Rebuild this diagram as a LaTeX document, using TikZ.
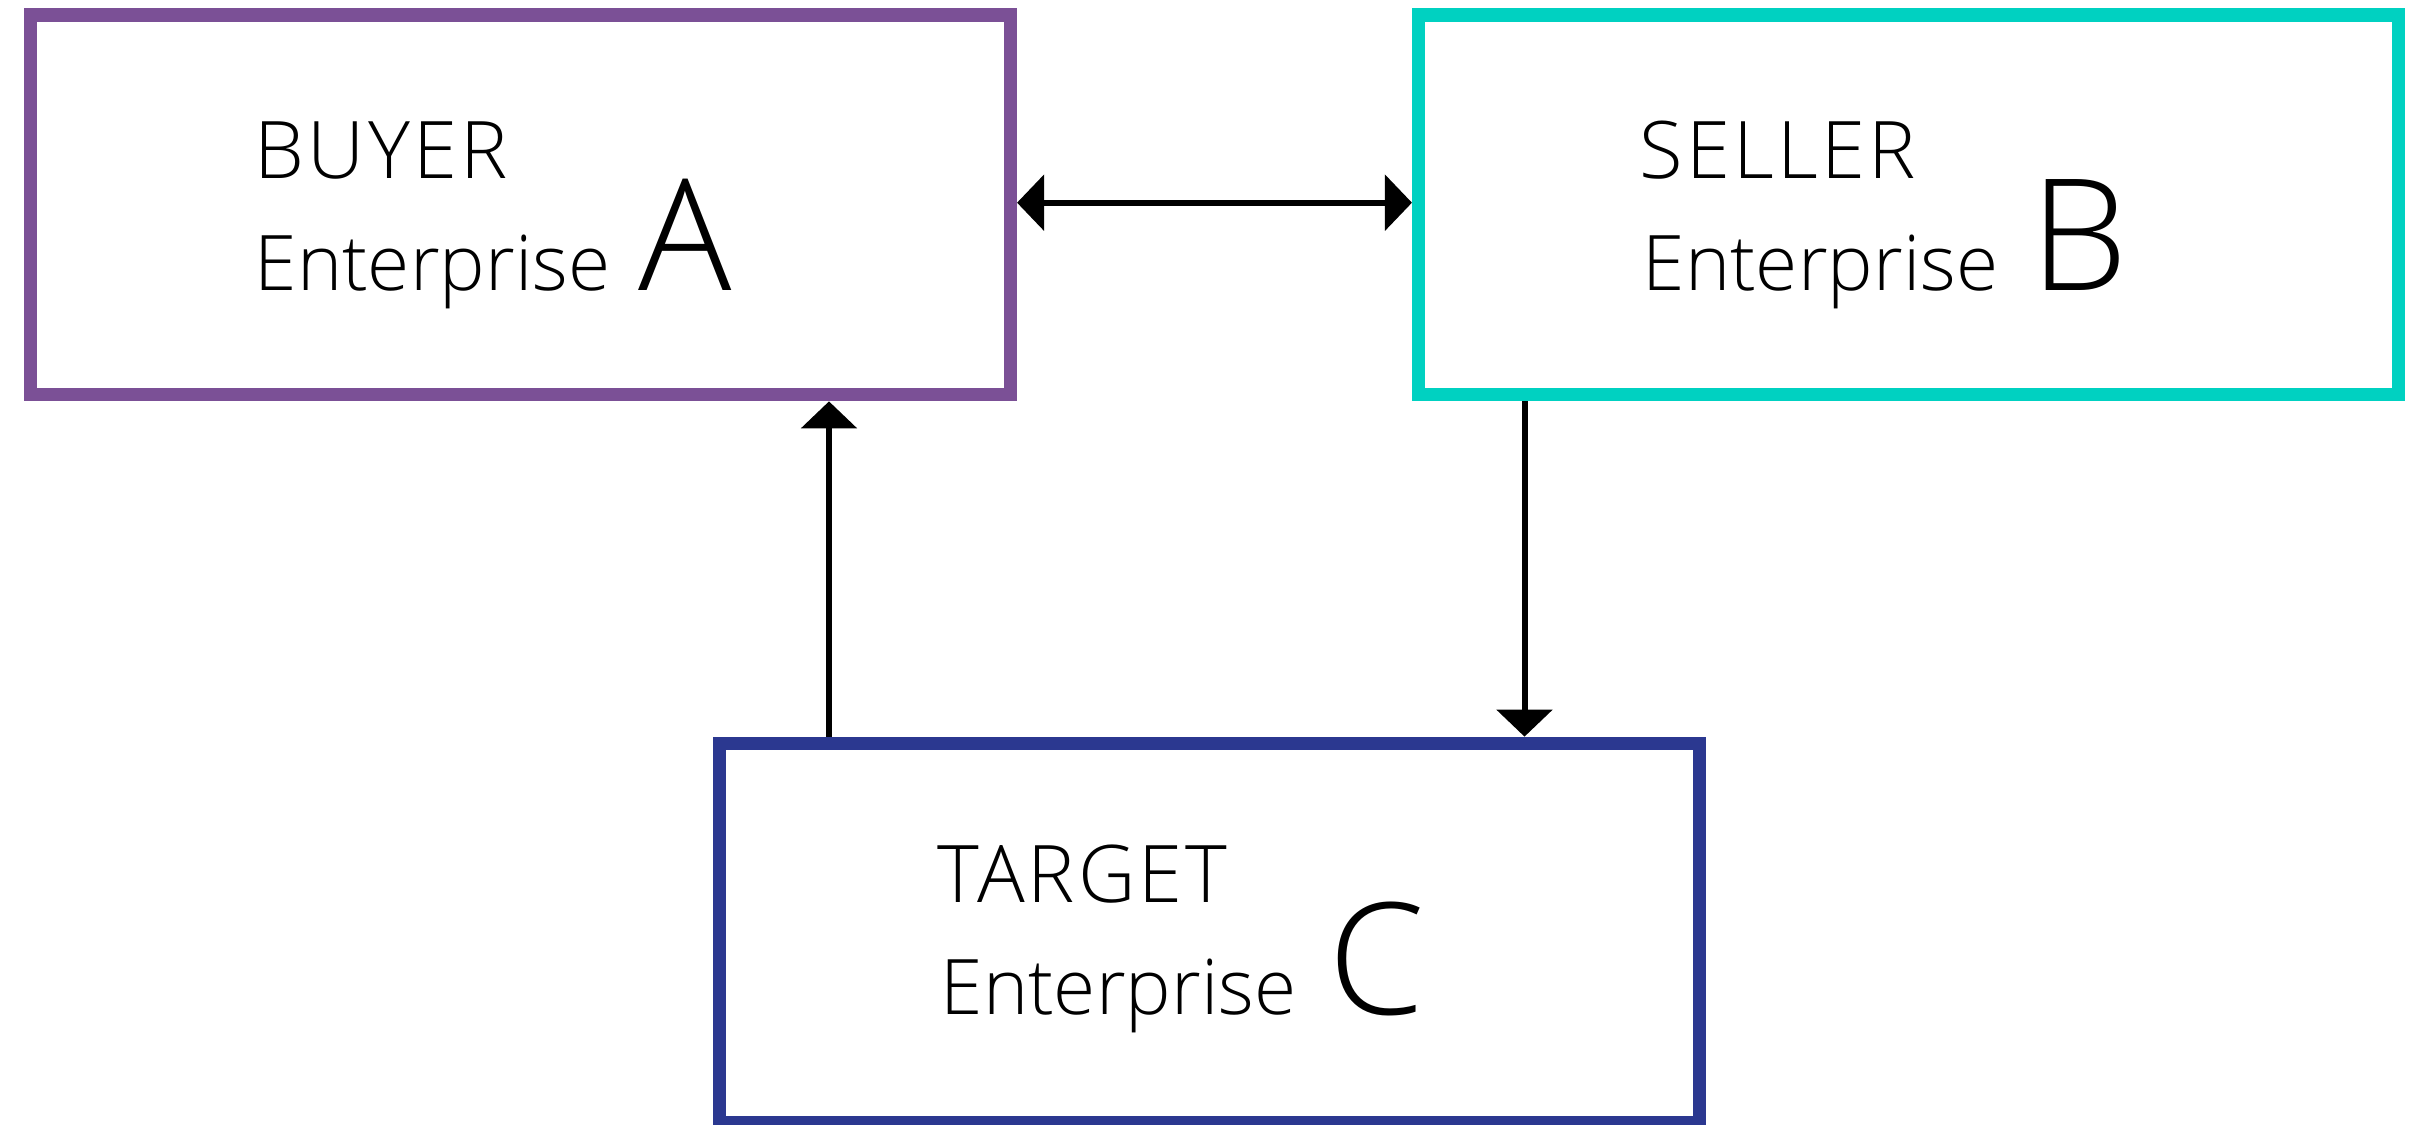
\documentclass[tikz,border=0pt]{standalone}
\usepackage{fontspec}
\setmainfont{Open Sans Light}
\usetikzlibrary{arrows.meta}
\definecolor{buyerpurple}{HTML}{7B5096}
\definecolor{sellerteal}{HTML}{00D1C1}
\definecolor{targetnavy}{HTML}{2B3890}
\tikzset{
  party/.style={draw=#1, line width=3.84pt, minimum width=9.79cm, minimum height=3.795cm, inner sep=0pt},
  lbl/.style={anchor=base west, inner sep=0pt, font=\fontsize{21.8pt}{26pt}\selectfont},
  role/.style={anchor=base west, inner sep=0pt, font=\fontsize{22.6pt}{26pt}\selectfont\addfontfeature{LetterSpace=4}},
  bigletter/.style={anchor=base west, inner sep=0pt, font=\fontsize{44.2pt}{50pt}\selectfont},
  link/.style={line width=1.71pt, {Triangle[length=0.27cm,width=0.55cm]}-{Triangle[length=0.27cm,width=0.55cm]}},
  flow/.style={line width=1.71pt, -{Triangle[length=0.27cm,width=0.55cm]}}
}
\begin{document}
\begin{tikzpicture}[x=0.01cm,y=-0.01cm]
  \useasboundingbox (0,0) rectangle (2421,1124);
  \clip (0,0) rectangle (2421,1124);

  % the three enterprises
  \node[party=buyerpurple]  (A) at (520.5,204.75) {};
  \node[party=sellerteal]   (B) at (1908.5,204.75) {};
  \node[party=targetnavy]   (C) at (1209.5,933.25) {};

  % buyer label
  \node[role] (Atop) at (254,178.3) {BUYER};
  \node[lbl] (Abot) at (254,290.7) {Enterprise};
  \node[bigletter] (Aletter) at (638,290.7) {A};

  % seller label
  \node[role] (Btop) at (1639,178.3) {SELLER};
  \node[lbl] (Bbot) at (1642,290.7) {Enterprise};
  \node[bigletter] (Bletter) at (2030,290.7) {B};

  % target label
  \node[role] (Ctop) at (937,902.3) {TARGET};
  \node[lbl] (Cbot) at (940,1014.3) {Enterprise};
  \node[bigletter] (Cletter) at (1328,1014.3) {C};

  % connectors
  \coordinate (ya) at (0,202.7);
  \coordinate (xa) at (829,0);
  \coordinate (xb) at (1524.5,0);
  \draw[link] (A.east |- ya) -- (B.west |- ya);
  \draw[flow] (C.north -| xa) -- (A.south -| xa);
  \draw[flow] (B.south -| xb) -- (C.north -| xb);
\end{tikzpicture}
\end{document}
